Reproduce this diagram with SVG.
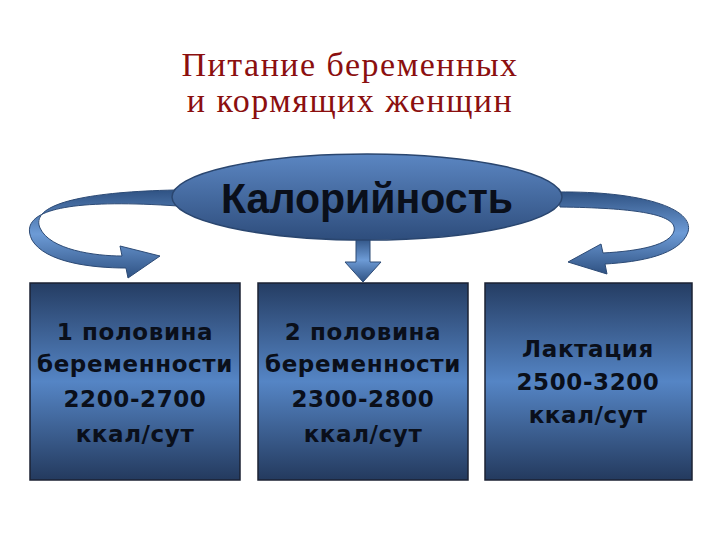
<svg xmlns="http://www.w3.org/2000/svg" width="720" height="540" viewBox="0 0 720 540">
<defs>
<style>
.t{font-family:"Liberation Serif",serif;font-size:34px;fill:#8b0f0f;text-anchor:middle;letter-spacing:1.5px}
.b{font-family:"DejaVu Sans",sans-serif;font-weight:bold;font-size:23px;fill:#0a0f1a;text-anchor:middle;letter-spacing:0.6px}
.box{stroke:#1b2233;stroke-width:1.5;fill:url(#bg)}
.arr{fill:url(#ag);stroke:#2c4a75;stroke-width:1}
</style>
<linearGradient id="bg" x1="0" y1="0" x2="0" y2="1">
<stop offset="0" stop-color="#253d63"/><stop offset="0.5" stop-color="#5585c5"/><stop offset="1" stop-color="#243a5e"/>
</linearGradient>
<linearGradient id="eg" x1="0" y1="0" x2="0" y2="1">
<stop offset="0" stop-color="#5b86c2"/><stop offset="1" stop-color="#2e4d7c"/>
</linearGradient>
<linearGradient id="ag" x1="0" y1="0" x2="0" y2="1">
<stop offset="0" stop-color="#2f5283"/><stop offset="0.5" stop-color="#6d9bd6"/><stop offset="1" stop-color="#2f5283"/>
</linearGradient>
</defs>
<g id="title">
<text class="t" x="350" y="76">Питание беременных</text>
<text class="t" x="350" y="112">и кормящих женщин</text>
</g>
<g id="connectors">
<path class="arr" d="M175,190 C80,192 30,205 40,228 C50,250 95,256 122,256 L120,246 L160,256 L128,278 L126,268 C90,268 45,262 32,240 C18,212 60,198 178,206 Z"/>
<path class="arr" d="M558,192 C640,191 695,208 688,232 C680,255 640,262 605,264 L607,274 L568,262 L601,244 L603,253 C640,251 670,245 674,231 C678,215 640,208 560,207 Z"/>
<path class="arr" d="M356,238 L370,238 L370,262 L381,262 L363,282 L345,262 L356,262 Z"/>
</g>
<g id="calories">
<ellipse cx="367" cy="197" rx="195" ry="43" fill="url(#eg)" stroke="#2a466f" stroke-width="1.5"/>
<text x="367" y="213" textLength="292" lengthAdjust="spacingAndGlyphs" style="font-family:'Liberation Sans',sans-serif;font-weight:bold;font-size:42px;fill:#0a0f1a;text-anchor:middle">Калорийность</text>
</g>
<g id="box1">
<rect class="box" x="30" y="283" width="210" height="197"/>
<text class="b" x="135" y="340">1 половина</text>
<text class="b" x="135" y="372">беременности</text>
<text class="b" x="135" y="407">2200-2700</text>
<text class="b" x="135" y="442">ккал/сут</text>
</g>
<g id="box2">
<rect class="box" x="258" y="283" width="210" height="197"/>
<text class="b" x="363" y="340">2 половина</text>
<text class="b" x="363" y="372">беременности</text>
<text class="b" x="363" y="407">2300-2800</text>
<text class="b" x="363" y="442">ккал/сут</text>
</g>
<g id="box3">
<rect class="box" x="485" y="283" width="207" height="197"/>
<text class="b" x="588" y="357">Лактация</text>
<text class="b" x="588" y="390">2500-3200</text>
<text class="b" x="588" y="423">ккал/сут</text>
</g>
</svg>
